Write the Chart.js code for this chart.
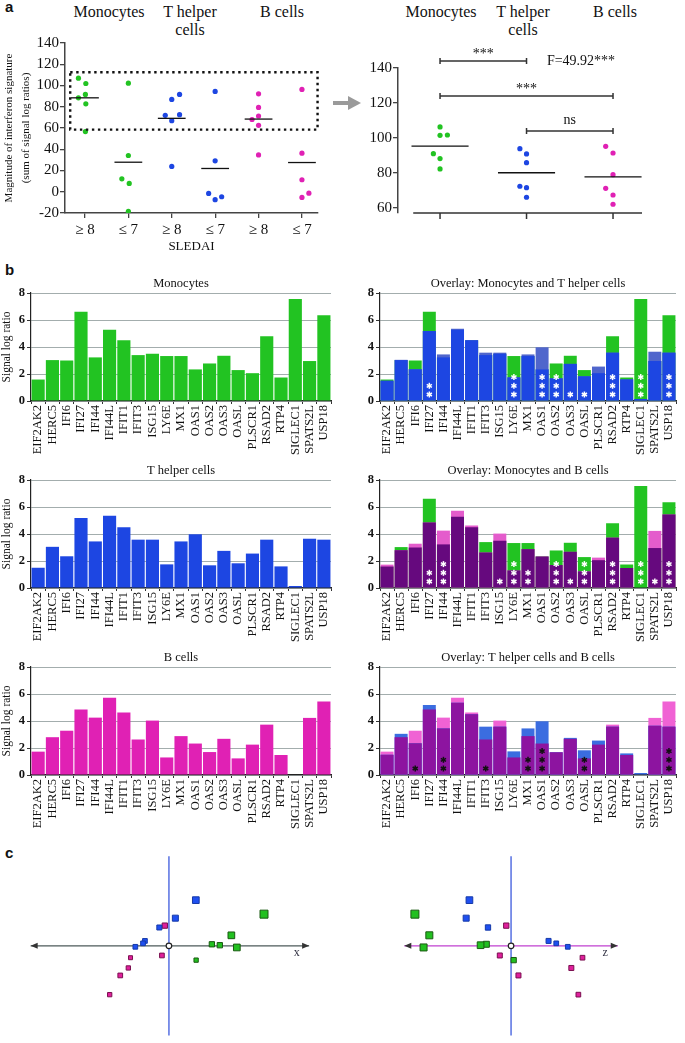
<!DOCTYPE html>
<html lang="en">
<head>
  <meta charset="UTF-8">
  <title>Interferon signature in monocytes, T helper cells and B cells</title>
  <script src="https://cdn.jsdelivr.net/npm/chart.js"></script>
  <style>
    body {
      margin: 0;
      background: #fff;
    }
    #page {
      position: relative;
      width: 685px;
      height: 1043px;
      overflow: hidden;
      font-family: 'Liberation Serif', serif;
      color: #111;
    }
    .box {
      position: absolute;
    }
    .head {
      position: absolute;
      font-size: 16px;
      line-height: 18px;
      white-space: nowrap;
      text-align: center;
      transform: translateX(-50%);
    }
    .panel {
      position: absolute;
      font-family: 'Liberation Sans', Arial, sans-serif;
      font-weight: bold;
      font-size: 15px;
    }
  </style>
</head>
<body>
<div id="page">
  <div class="panel" style="left:5px; top:-2px;">a</div>
  <div class="panel" style="left:5px; top:261px;">b</div>
  <div class="panel" style="left:5px; top:844px;">c</div>

  <div class="head" style="left:109px; top:3px;">Monocytes</div>
  <div class="head" style="left:190px; top:3px;">T helper<br>cells</div>
  <div class="head" style="left:282px; top:3px;">B cells</div>
  <div class="head" style="left:441px; top:3px;">Monocytes</div>
  <div class="head" style="left:523px; top:3px;">T helper<br>cells</div>
  <div class="head" style="left:615px; top:3px;">B cells</div>

  <div class="box" style="left:0; top:0; width:330px; height:255px;"><canvas id="sledaiChart"></canvas></div>
  <div class="box" style="left:330px; top:0; width:355px; height:255px;"><canvas id="highChart"></canvas></div>

  <div class="box" style="left:0; top:276px; width:340px; height:185px;"><canvas id="monoChart"></canvas></div>
  <div class="box" style="left:340px; top:276px; width:345px; height:185px;"><canvas id="monoThChart"></canvas></div>
  <div class="box" style="left:0; top:463px; width:340px; height:185px;"><canvas id="thChart"></canvas></div>
  <div class="box" style="left:340px; top:463px; width:345px; height:185px;"><canvas id="monoBChart"></canvas></div>
  <div class="box" style="left:0; top:650px; width:340px; height:185px;"><canvas id="bChart"></canvas></div>
  <div class="box" style="left:340px; top:650px; width:345px; height:185px;"><canvas id="thBChart"></canvas></div>

  <div class="box" style="left:0; top:845px; width:335px; height:198px;"><canvas id="projX"></canvas></div>
  <div class="box" style="left:340px; top:845px; width:345px; height:198px;"><canvas id="projZ"></canvas></div>
</div>

<script>
  // ---- panel a : magnitude of the interferon signature ----
  const sledaiTicks = ['≥ 8', '≤ 7', '≥ 8', '≤ 7', '≥ 8', '≤ 7'];
  const monoHigh = [106.9, 101.9, 91.6, 88.4, 82.8, 56.6];
  const monoHighJit = [-0.15, 0.02, 0.01, -0.15, 0.02, 0.01];
  const monoLow = [102.2, 34.1, 12.2, 7.8, -18.4];
  const monoLowJit = [0, 0, -0.15, 0.02, 0];
  const thHigh = [91.6, 86.9, 72.5, 71.9, 66.9, 23.8];
  const thHighJit = [0.18, 0, 0.18, -0.15, 0, 0];
  const thLow = [94.4, 29.1, -1.6, -4.7, -7.5];
  const thLowJit = [0, 0, -0.15, 0.15, 0];
  const bHigh = [92.2, 79.4, 71.3, 68.0, 62.5, 34.7];
  const bHighJit = [0, 0, 0, -0.15, 0, 0];
  const bLow = [96.3, 36.3, 11.3, -1.3, -5.3];
  const bLowJit = [0, 0, 0, 0.16, 0];
  const sledaiMeans = [88.4, 27.8, 69.1, 21.9, 68.4, 27.5];

  // patients with SLEDAI >= 8 and signature > 60
  const selMono = [106.3, 101.5, 101.7, 91.0, 88.2, 82.3];
  const selMonoJit = [0, 0, 0.085, -0.077, 0, 0];
  const selTh = [93.9, 90.9, 85.9, 72.4, 71.6, 66.1];
  const selThJit = [-0.077, 0, 0, -0.077, 0, 0];
  const selB = [95.2, 91.4, 79.0, 71.2, 67.4, 62.1];
  const selBJit = [-0.085, 0, 0, -0.085, 0, 0];
  const selMeans = [95.3, 80.1, 77.7];

  // ---- panel b : signal log ratios per gene ----
  const genes = ['EIF2AK2', 'HERC5', 'IFI6', 'IFI27', 'IFI44', 'IFI44L', 'IFIT1', 'IFIT3', 'ISG15', 'LY6E', 'MX1',
    'OAS1', 'OAS2', 'OAS3', 'OASL', 'PLSCR1', 'RSAD2', 'RTP4', 'SIGLEC1', 'SPATS2L', 'USP18'];
  const monoRatio = [1.59, 3.03, 3.0, 6.61, 3.23, 5.27, 4.5, 3.4, 3.5, 3.33, 3.33, 2.34, 2.78, 3.35, 2.29, 2.06, 4.8, 1.74, 7.55, 2.96, 6.36];
  const thRatio = [1.5, 3.05, 2.35, 5.18, 3.45, 5.35, 4.5, 3.58, 3.58, 1.75, 3.45, 3.98, 1.68, 2.75, 1.83, 2.55, 3.58, 1.6, 0.15, 3.65, 3.58];
  const bRatio = [1.73, 2.8, 3.28, 4.85, 4.25, 5.73, 4.63, 2.63, 4.03, 1.3, 2.88, 2.33, 1.7, 2.68, 1.23, 2.25, 3.73, 1.48, 0, 4.23, 5.45];
  // number of significance asterisks per gene
  const starsMonoTh = [0, 0, 0, 2, 0, 0, 0, 0, 0, 3, 0, 3, 3, 1, 1, 0, 3, 0, 3, 0, 3];
  const starsMonoB = [0, 0, 0, 2, 3, 0, 0, 0, 1, 3, 2, 0, 3, 1, 3, 0, 3, 0, 3, 1, 3];
  const starsThB = [0, 0, 1, 0, 2, 0, 0, 1, 0, 0, 2, 3, 0, 0, 2, 0, 0, 0, 0, 0, 3];

  // ---- panel c : projections (x / y and z / y) ----
  const projBlueX = [28, 6.7, -10, -25, -27, -35];
  const projBlueZ = [-43.3, -46.7, -24, 39, 47, 59];
  const projBlueY = [49, 29.7, 19.7, 5.3, 2.7, -1];
  const projBlueDepthX = [6.7, 6, 5, 4.7, 4.7, 4.7];
  const projBlueDepthZ = [6.7, 6, 5.3, 5, 4.7, 4.7];
  const projPinkX = [-4.3, -7.3, -40, -42.3, -50.7, -61.7];
  const projPinkZ = [-5, -11.7, 74.3, 62.7, 7.7, 70];
  const projPinkY = [21.7, -10.3, -12.7, -23.7, -31.7, -52.3];
  const projPinkDepthX = [5.3, 4.7, 4, 4.3, 4.7, 4.3];
  const projPinkDepthZ = [5.3, 5, 4.7, 5, 5, 4.7];
  const projGreenX = [99, 65, 44.7, 53, 70.7, 28.3];
  const projGreenZ = [-100, -85, -25.7, -31.7, -91, 2.7];
  const projGreenY = [34, 11.3, 1.7, 0.7, -1.7, -15.3];
  const projGreenDepthX = [8, 6.7, 5.3, 5.3, 6.7, 4.3];
  const projGreenDepthZ = [8, 7, 6, 6.7, 7, 5.3];

  const GREEN = '#22c322';
  const BLUE = '#1d46e2';
  const PINK = '#e021b4';
  const INK = '#111';
  const SERIF = "'Liberation Serif', 'Times New Roman', serif";

  function f(size, weight) {
    return { family: SERIF, size, weight: weight || 'normal' };
  }

  Chart.defaults.font.family = SERIF;
  Chart.defaults.color = INK;
  Chart.defaults.animation = false;
  Chart.defaults.devicePixelRatio = 1;
  Chart.defaults.plugins.legend.display = false;
  Chart.defaults.plugins.tooltip.enabled = false;
  Chart.defaults.maintainAspectRatio = false;

  function pts(vals, jit, cat) {
    return vals.map((v, i) => ({ x: cat + jit[i], y: v }));
  }
  function dots(data, color) {
    return { type: 'scatter', data, backgroundColor: color, borderColor: color, pointRadius: 2.6, borderWidth: 0 };
  }

  // black mean bars for the dot plots
  const meanLines = {
    id: 'meanLines',
    afterDatasetsDraw(chart, args, opts) {
      if (!opts.means) return;
      const { ctx, scales: { x, y } } = chart;
      ctx.save();
      ctx.strokeStyle = INK;
      ctx.lineWidth = 1.3;
      opts.means.forEach((m, i) => {
        ctx.beginPath();
        ctx.moveTo(x.getPixelForValue(i + 1 - opts.half), y.getPixelForValue(m));
        ctx.lineTo(x.getPixelForValue(i + 1 + opts.half), y.getPixelForValue(m));
        ctx.stroke();
      });
      ctx.restore();
    }
  };

  // asterisks stacked at the foot of a bar
  const barStars = {
    id: 'barStars',
    afterDatasetsDraw(chart, args, opts) {
      if (!opts.counts) return;
      const { ctx, scales: { x, y } } = chart;
      ctx.save();
      ctx.strokeStyle = opts.color;
      ctx.lineWidth = 1.5;
      opts.counts.forEach((n, i) => {
        for (let k = 0; k < n; k++) {
          const cx = x.getPixelForValue(i);
          const cy = y.getPixelForValue(0) - 6.5 - k * 8.7;
          for (let a = 0; a < 3; a++) {
            const ang = Math.PI / 2 + a * Math.PI / 3;
            ctx.beginPath();
            ctx.moveTo(cx - 3 * Math.cos(ang), cy - 3 * Math.sin(ang));
            ctx.lineTo(cx + 3 * Math.cos(ang), cy + 3 * Math.sin(ang));
            ctx.stroke();
          }
        }
      });
      ctx.restore();
    }
  };

  const barTitle = {
    id: 'barTitle',
    afterDraw(chart, args, opts) {
      if (!opts.text) return;
      const { ctx, chartArea } = chart;
      ctx.save();
      ctx.font = '12.5px ' + SERIF;
      ctx.fillStyle = INK;
      ctx.textAlign = 'center';
      ctx.textBaseline = 'middle';
      ctx.fillText(opts.text, (chartArea.left + chartArea.right) / 2, chartArea.top - 9);
      ctx.restore();
    }
  };
  Chart.register(meanLines, barStars, barTitle);

  // ----- a, left -----
  new Chart(document.getElementById('sledaiChart'), {
    data: {
      datasets: [
        dots(pts(monoHigh, monoHighJit, 1), GREEN),
        dots(pts(monoLow, monoLowJit, 2), GREEN),
        dots(pts(thHigh, thHighJit, 3), BLUE),
        dots(pts(thLow, thLowJit, 4), BLUE),
        dots(pts(bHigh, bHighJit, 5), PINK),
        dots(pts(bLow, bLowJit, 6), PINK)
      ]
    },
    options: {
      layout: { padding: { top: 43, right: 12, left: 0, bottom: 0 } },
      plugins: { meanLines: { means: sledaiMeans, half: 0.32 } },
      scales: {
        x: {
          type: 'linear', min: 0.54, max: 6.37,
          afterBuildTicks: s => { s.ticks = [1, 2, 3, 4, 5, 6].map(v => ({ value: v })); },
          ticks: { callback: v => sledaiTicks[v - 1], font: f(15), padding: 3, color: INK },
          grid: { drawOnChartArea: false, tickLength: 5, color: '#444', lineWidth: 1.3 },
          border: { color: '#444', width: 1.5 },
          title: { display: true, text: 'SLEDAI', font: f(13), padding: { top: 0, bottom: 1 }, color: INK },
          afterFit: s => { s.height = 42; }
        },
        y: {
          min: -20, max: 140,
          ticks: { stepSize: 20, font: f(15), padding: 1, color: INK },
          grid: { drawOnChartArea: false, tickLength: 5, color: '#444', lineWidth: 1.3 },
          border: { color: '#444', width: 1.5 },
          title: {
            display: true, text: ['Magnitude of interferon signature', '(sum of signal log ratios)'],
            font: { family: SERIF, size: 11, lineHeight: 1.6 }, padding: { top: 0, bottom: 0 }, color: INK
          },
          afterFit: s => { s.width = 65; }
        }
      }
    },
    plugins: [{
      id: 'selBox',
      afterDatasetsDraw(chart) {
        const { ctx, scales: { x, y } } = chart;
        ctx.save();
        ctx.strokeStyle = INK;
        ctx.lineWidth = 2.4;
        ctx.setLineDash([2.4, 3.6]);
        const l = x.getPixelForValue(0.66), r = x.getPixelForValue(6.36);
        const t = y.getPixelForValue(112.5), b = y.getPixelForValue(58.5);
        ctx.strokeRect(l, t, r - l, b - t);
        ctx.restore();
      }
    }]
  });

  // ----- a, right -----
  new Chart(document.getElementById('highChart'), {
    data: {
      datasets: [
        dots(pts(selMono, selMonoJit, 1), GREEN),
        dots(pts(selTh, selThJit, 2), BLUE),
        dots(pts(selB, selBJit, 3), PINK)
      ]
    },
    options: {
      layout: { padding: { top: 68, right: 43, left: 0, bottom: 42 } },
      plugins: { meanLines: { means: selMeans, half: 0.33 } },
      scales: {
        x: { type: 'linear', min: 0.514, max: 3.335, display: false },
        y: {
          min: 57.1, max: 140,
          afterBuildTicks: s => { s.ticks = [60, 80, 100, 120, 140].map(v => ({ value: v })); },
          ticks: { font: f(15), padding: 1, color: INK },
          grid: { drawOnChartArea: false, tickLength: 5, color: '#444', lineWidth: 1.3 },
          border: { color: '#444', width: 1.5 },
          afterFit: s => { s.width = 68; }
        }
      }
    },
    plugins: [{
      id: 'brackets',
      afterDraw(chart) {
        const { ctx, scales: { x, y } } = chart;
        const base = y.getPixelForValue(57.1);
        ctx.save();
        ctx.strokeStyle = '#333';
        ctx.lineWidth = 1.5;
        // baseline with category ticks
        ctx.beginPath();
        ctx.moveTo(x.getPixelForValue(0.69), base);
        ctx.lineTo(x.right, base);
        [1, 2, 3].forEach(c => {
          ctx.moveTo(x.getPixelForValue(c), base);
          ctx.lineTo(x.getPixelForValue(c), base + 6);
        });
        ctx.stroke();
        // comparison brackets
        ctx.fillStyle = INK;
        ctx.textAlign = 'center';
        ctx.font = '14px ' + SERIF;
        [[1, 2, 144, '***'], [1, 3, 124, '***'], [2, 3, 104, 'ns']].forEach(([a, b, v, t]) => {
          const xa = x.getPixelForValue(a), xb = x.getPixelForValue(b), yy = y.getPixelForValue(v);
          ctx.beginPath();
          ctx.moveTo(xa, yy - 3); ctx.lineTo(xa, yy + 3);
          ctx.moveTo(xa, yy); ctx.lineTo(xb, yy);
          ctx.moveTo(xb, yy - 3); ctx.lineTo(xb, yy + 3);
          ctx.stroke();
          ctx.textBaseline = 'alphabetic';
          ctx.fillText(t, (xa + xb) / 2, t === 'ns' ? yy - 7 : yy - 3);
        });
        ctx.textBaseline = 'middle';
        ctx.fillText('F=49.92***', 251, y.getPixelForValue(144));
        // grey arrow linking the two plots
        ctx.fillStyle = '#9a9a9a';
        ctx.fillRect(3, 101, 18, 4);
        ctx.beginPath();
        ctx.moveTo(18, 96); ctx.lineTo(31, 103); ctx.lineTo(18, 110);
        ctx.closePath();
        ctx.fill();
        ctx.restore();
      }
    }]
  });

  // ----- b -----
  function barChart(id, title, datasets, stars, starColor, left, yTitle) {
    return new Chart(document.getElementById(id), {
      type: 'bar',
      data: { labels: genes, datasets },
      options: {
        layout: { padding: { top: 17, right: left ? 5 : 2, left: 0, bottom: 0 } },
        datasets: { bar: { barPercentage: 0.92, categoryPercentage: 1 } },
        plugins: {
          barTitle: { text: title },
          barStars: { counts: stars, color: starColor }
        },
        scales: {
          x: {
            stacked: true,
            ticks: { minRotation: 90, maxRotation: 90, autoSkip: false, font: f(12.5), padding: 1, color: INK },
            grid: { drawOnChartArea: false, tickLength: 3, color: '#333' },
            border: { color: '#222', width: 1.2 },
            afterFit: s => { s.height = 60; }
          },
          y: {
            min: 0, max: 8,
            ticks: { stepSize: 1, font: f(12.5, 'bold'), padding: 2, color: INK },
            grid: { color: '#a3adad', tickColor: '#333', tickLength: 4 },
            border: { color: '#222', width: 1.2 },
            title: { display: !!yTitle, text: 'Signal log ratio', font: f(11.5), padding: { top: 0, bottom: 0 }, color: INK },
            afterFit: s => { s.width = left ? 31 : 40; }
          }
        }
      }
    });
  }
  function bars(values, color, order) {
    return { data: values, backgroundColor: color, order };
  }
  function overlap(a, b) {
    return a.map((v, i) => Math.min(v, b[i]));
  }

  barChart('monoChart', 'Monocytes', [bars(monoRatio, GREEN, 0)], null, null, true, true);
  barChart('thChart', 'T helper cells', [bars(thRatio, BLUE, 0)], null, null, true, true);
  barChart('bChart', 'B cells', [bars(bRatio, PINK, 0)], null, null, true, true);

  barChart('monoThChart', 'Overlay: Monocytes and T helper cells', [
    bars(overlap(monoRatio, thRatio), BLUE, 0),
    bars(thRatio, '#5066cc', 1),
    bars(monoRatio, GREEN, 2)
  ], starsMonoTh, '#fff', false, false);
  barChart('monoBChart', 'Overlay: Monocytes and B cells', [
    bars(overlap(monoRatio, bRatio), '#66097e', 0),
    bars(bRatio, '#e45ccc', 1),
    bars(monoRatio, GREEN, 2)
  ], starsMonoB, '#fff', false, false);
  barChart('thBChart', 'Overlay: T helper cells and B cells', [
    bars(overlap(thRatio, bRatio), '#8d14a0', 0),
    bars(thRatio, '#3b6de0', 1),
    bars(bRatio, '#f062d4', 2)
  ], starsThB, '#111', false, false);

  // ----- c -----
  function squares(xs, ys, depth, color, edge) {
    return {
      type: 'scatter',
      data: xs.map((x, i) => ({ x, y: ys[i] })),
      pointStyle: 'rect',
      pointRadius: depth.map(d => d / 1.414),
      backgroundColor: color,
      borderColor: edge,
      borderWidth: 1
    };
  }
  function arrowHead(ctx, x, y, dir) {
    ctx.beginPath();
    ctx.moveTo(x, y);
    ctx.lineTo(x - dir * 7, y - 3);
    ctx.lineTo(x - dir * 7, y + 3);
    ctx.closePath();
    ctx.fill();
  }
  function projection(id, xs, blueD, pinkD, greenD, xMin, xMax, axis) {
    return new Chart(document.getElementById(id), {
      data: {
        datasets: [
          squares(xs[0], projBlueY, blueD, '#1f4ff0', '#163aa8'),
          squares(xs[1], projPinkY, pinkD, '#e0209c', '#7a1050'),
          squares(xs[2], projGreenY, greenD, '#22c020', '#1a5a12')
        ]
      },
      options: {
        layout: { padding: 0 },
        scales: {
          x: { type: 'linear', min: xMin, max: xMax, display: false },
          y: { min: -97, max: 101, display: false }
        }
      },
      plugins: [{
        id: 'axes3d',
        beforeDatasetsDraw(chart) {
          const { ctx, scales: { x, y } } = chart;
          const y0 = y.getPixelForValue(0), x0 = x.getPixelForValue(0);
          const l = x.getPixelForValue(axis.from), r = x.getPixelForValue(axis.to);
          ctx.save();
          ctx.lineWidth = 1.4;
          ctx.strokeStyle = axis.color;
          ctx.beginPath();
          ctx.moveTo(l, y0); ctx.lineTo(r, y0);
          ctx.stroke();
          ctx.fillStyle = '#333';
          arrowHead(ctx, l, y0, -1);
          arrowHead(ctx, r, y0, 1);
          ctx.strokeStyle = '#4a66e0';
          ctx.beginPath();
          ctx.moveTo(x0, y.getPixelForValue(96)); ctx.lineTo(x0, y.getPixelForValue(-96));
          ctx.stroke();
          ctx.fillStyle = '#334';
          ctx.font = '12px ' + SERIF;
          ctx.textAlign = 'center';
          ctx.textBaseline = 'middle';
          ctx.fillText(axis.label, x.getPixelForValue(axis.labelAt), y0 + 7);
          ctx.restore();
        },
        afterDatasetsDraw(chart) {
          const { ctx, scales: { x, y } } = chart;
          ctx.save();
          ctx.fillStyle = '#fff';
          ctx.strokeStyle = '#222';
          ctx.lineWidth = 1.2;
          ctx.beginPath();
          ctx.arc(x.getPixelForValue(0), y.getPixelForValue(0), 2.8, 0, Math.PI * 2);
          ctx.fill();
          ctx.stroke();
          ctx.restore();
        }
      }]
    });
  }

  projection('projX', [projBlueX, projPinkX, projGreenX], projBlueDepthX, projPinkDepthX, projGreenDepthX, -169, 166,
    { from: -144, to: 146, color: '#4d5a5a', label: 'x', labelAt: 133 });
  projection('projZ', [projBlueZ, projPinkZ, projGreenZ], projBlueDepthZ, projPinkDepthZ, projGreenDepthZ, -171, 174,
    { from: -111, to: 111, color: '#c040d0', label: 'z', labelAt: 98 });
</script>
</body>
</html>
